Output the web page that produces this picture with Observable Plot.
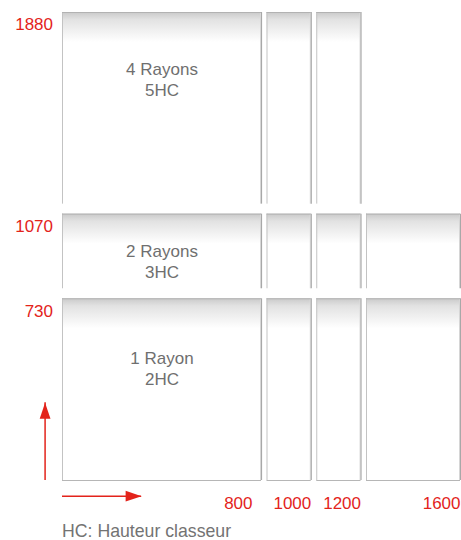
<!DOCTYPE html>
<html>
<head>
<meta charset="utf-8">
<script src="https://cdn.jsdelivr.net/npm/d3@7"></script>
<script src="https://cdn.jsdelivr.net/npm/@observablehq/plot@0.6"></script>
<style>
  html, body { margin: 0; padding: 0; background: #fff; }
  #chart svg { display: block; }
  .caption { font-family: "Liberation Sans", Arial, sans-serif; font-size: 17.7px; color: #737373; padding-left: 62px; line-height: 30px; height: 24px; }
</style>
</head>
<body>
<div id="chart"></div>
<div class="caption" id="caption"></div>
<script>
// ---- data ----
const columns = [800, 1000, 1200, 1600];          // width boundaries (mm)
const rows = [730, 1070, 1880];                    // height boundaries (mm)
const rowColumnCount = [4, 4, 3];                  // columns available in each row
const rowText = ["1 Rayon\n2HC", "2 Rayons\n3HC", "4 Rayons\n5HC"];
const rowTextY = [452, 881, 1612];                 // vertical position of the row text (mm)
const arrowUp = [{x: -70, y1: 0, y2: 312}];        // vertical axis arrow (mm)
const arrowRight = [{y: -63, x1: 0, x2: 318}];     // horizontal axis arrow (mm)
const captionText = "HC: Hauteur classeur";

const red = "#e3231b";
const textGray = "#6f6f6f";

// cells built from the arrays above
const cells = [];
rows.forEach((top, r) => {
  for (let c = 0; c < rowColumnCount[r]; c++) {
    cells.push({r, c, x1: c ? columns[c - 1] : 0, x2: columns[c], bottom: r ? rows[r - 1] : 0, top});
  }
});

function boxMarks(sub, r, il, ib) {
  const out = [
    Plot.rect(sub, {x1: "x1", x2: "x2", y1: "top", y2: "bottom", fill: `url(#fade${r})`, insetLeft: il, insetBottom: ib}),
    Plot.ruleX(sub, {x: "x1", y1: "top", y2: "bottom", dx: il, insetBottom: ib, stroke: "#c3c3c3"}),
    Plot.ruleX(sub, {x: "x2", y1: "top", y2: "bottom", dx: -1, insetBottom: ib, stroke: "#dcdcdc"}),
    Plot.ruleX(sub, {x: "x2", y1: "top", y2: "bottom", insetBottom: ib, stroke: "#a8a8a8", strokeWidth: 1.2}),
    Plot.ruleY(sub, {y: "top", x1: "x1", x2: "x2", insetLeft: il, stroke: "#b2b2b2"})
  ];
  if (ib === 0) out.push(Plot.ruleY(sub, {y: "bottom", x1: "x1", x2: "x2", insetLeft: il, stroke: "#b6b6b6", strokeWidth: 1.2}));
  return out;
}

const boxes = [];
rows.forEach((_, r) => {
  const ib = r > 0 ? 10 : 0;
  boxes.push(...boxMarks(cells.filter(d => d.r === r && d.c === 0), r, 0, ib));
  boxes.push(...boxMarks(cells.filter(d => d.r === r && d.c > 0), r, 5.5, ib));
});

// elongated arrow head, tip at origin, pointing up
const arrowHead = {
  draw(ctx) {
    ctx.moveTo(0, 0);
    ctx.lineTo(-5.4, 16);
    ctx.lineTo(5.4, 16);
    ctx.closePath();
  }
};

const plot = Plot.plot({
  width: 461,
  height: 516,
  marginTop: 12,
  marginBottom: 36,
  marginLeft: 62,
  marginRight: 1,
  x: {domain: [0, 1600], range: [62, 460], axis: null},
  y: {domain: [0, 1880], range: [480, 12], axis: null},
  style: {fontFamily: "'Liberation Sans', Arial, sans-serif", background: "#fff"},
  marks: [
    ...boxes,
    Plot.text(rowText, {x: columns[0] / 2, y: (d, i) => rowTextY[i], text: d => d, fontSize: 17, fill: textGray, lineHeight: 1.24}),
    Plot.text(rows, {x: 0, y: d => d, text: d => String(d), textAnchor: "end", dx: -9.5, dy: 12.5, fill: red, fontSize: 17}),
    Plot.text(columns.slice(0, 1), {x: d => d, y: 0, text: d => String(d), textAnchor: "end", dx: -9, dy: 23, fill: red, fontSize: 17}),
    Plot.text(columns.slice(1), {x: d => d, y: 0, text: d => String(d), textAnchor: "end", dx: 0, dy: 23, fill: red, fontSize: 17}),
    Plot.ruleX(arrowUp, {x: "x", y1: "y2", y2: "y1", stroke: red, strokeWidth: 1.5}),
    Plot.dot(arrowUp, {x: "x", y: "y2", symbol: arrowHead, fill: red, stroke: "none", r: 5}),
    Plot.ruleY(arrowRight, {y: "y", x1: "x1", x2: "x2", stroke: red, strokeWidth: 1.5}),
    Plot.dot(arrowRight, {x: "x2", y: "y", symbol: arrowHead, fill: red, stroke: "none", r: 5, rotate: 90})
  ]
});

// top fade gradients, one per row, placed through the y scale
const yScale = plot.scale("y");
const ns = "http://www.w3.org/2000/svg";
const defs = document.createElementNS(ns, "defs");
rows.forEach((top, r) => {
  const yTop = yScale.apply(top);
  const g = document.createElementNS(ns, "linearGradient");
  g.setAttribute("id", `fade${r}`);
  g.setAttribute("gradientUnits", "userSpaceOnUse");
  g.setAttribute("x1", 0); g.setAttribute("x2", 0);
  g.setAttribute("y1", yTop); g.setAttribute("y2", yTop + 30);
  [[0, "#c9c9c9"], [0.25, "#e2e2e2"], [1, "#ffffff"]].forEach(([o, c]) => {
    const s = document.createElementNS(ns, "stop");
    s.setAttribute("offset", o);
    s.setAttribute("stop-color", c);
    g.appendChild(s);
  });
  defs.appendChild(g);
});
plot.insertBefore(defs, plot.firstChild);

document.getElementById("chart").appendChild(plot);
document.getElementById("caption").textContent = captionText;
</script>
</body>
</html>
